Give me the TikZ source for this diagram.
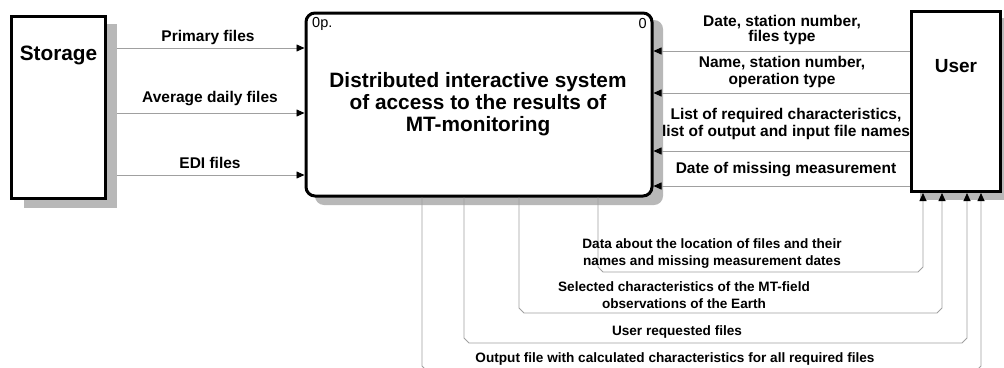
\documentclass[tikz,border=0pt]{standalone}
\usepackage{fontspec}
\setmainfont{Liberation Sans}
\usetikzlibrary{arrows.meta,calc}
\definecolor{shadowc}{HTML}{B8B8B8}
\definecolor{linec}{HTML}{A0A0A0}
\begin{document}
\begin{tikzpicture}[x=1pt,y=-1pt,
  box/.style={draw=black,line width=3pt,fill=white,inner sep=0pt},
  title/.style={font=\fontsize{20.8}{22}\selectfont\bfseries,align=center,inner sep=0pt},
  lbl/.style={font=\fontsize{15.5}{17}\selectfont\bfseries,align=center,inner sep=0pt},
  blbl/.style={font=\fontsize{13.6}{17}\selectfont\bfseries,align=center,inner sep=0pt},
  small/.style={font=\fontsize{14.5}{16}\selectfont,inner sep=0pt},
  conn/.style={draw=linec,line width=0.8pt,-{Triangle[length=8pt,width=7pt,color=black]}}]
\useasboundingbox (0,0) rectangle (1004,367);
\clip (0,0) rectangle (1004,367);
% shadows
\fill[shadowc] (24,24) rectangle (117,208);
\fill[shadowc,rounded corners=9pt] (315,20) rectangle (663,205);
\fill[shadowc] (920,18) rectangle (1012,200);
% boxes
\node[box,minimum width=94pt,minimum height=182pt] (storage) at (58.5,107.5) {};
\node[box,rounded corners=9pt,minimum width=346pt,minimum height=183pt] (main) at (479,104.5) {};
\node[box,minimum width=89pt,minimum height=180pt] (user) at (956,101.5) {};
\node[title] (storaget) at (58.5,55) {Storage};
\node[title,font=\fontsize{19}{21}\selectfont\bfseries] (usert) at (956,66) {User};
\node[title] (maint) at (478,104) {Distributed interactive system\\of access to the results of\\MT-monitoring};
\node[small,anchor=west] (opn) at (312,24) {0p.};
\node[small,anchor=east] (zero) at (647,24) {0};
% coordinates
\coordinate (s1) at (0,48);
\coordinate (s2) at (0,113);
\coordinate (s3) at (0,175);
\coordinate (r1) at (0,51);
\coordinate (r2) at (0,93);
\coordinate (r3) at (0,151);
\coordinate (r4) at (0,186);
% storage -> main
\draw[conn] ($(storage.east |- s1)+(10,0)$) -- (main.west |- s1);
\draw[conn] ($(storage.east |- s2)+(10,0)$) -- (main.west |- s2);
\draw[conn] ($(storage.east |- s3)+(10,0)$) -- (main.west |- s3);
% user -> main
\draw[conn] (user.west |- r1) -- (main.east |- r1);
\draw[conn] (user.west |- r2) -- (main.east |- r2);
\draw[conn] (user.west |- r3) -- (main.east |- r3);
\draw[conn] (user.west |- r4) -- (main.east |- r4);
% main -> user (bottom)
\coordinate (a1) at (598,272); \coordinate (b1) at (923,272);
\coordinate (a2) at (519,313); \coordinate (b2) at (942,313);
\coordinate (a3) at (464,343); \coordinate (b3) at (967,343);
\coordinate (a4) at (422,371); \coordinate (b4) at (981,371);
\foreach \i in {1,2,3,4}{
  \draw[conn] (main.south -| a\i) -- ($(a\i)+(0,-5)$) -- ($(a\i)+(5,0)$) -- ($(b\i)+(-5,0)$) -- ($(b\i)+(0,-5)$) -- (user.south -| b\i);
}
% labels
\node[lbl] (l1) at (208,37) {Primary files};
\node[lbl] (l2) at (210,99) {Average daily files};
\node[lbl] (l3) at (210,163) {EDI files};
\node[lbl] (l4) at (782,30) {Date, station number,\\[-2pt]files type};
\node[lbl] (l5) at (782,72) {Name, station number,\\operation type};
\node[lbl] (l6) at (786,124) {List of required characteristics,\\list of output and input file names};
\node[lbl] (l7) at (786,170) {Date of missing measurement};
\node[blbl] (l8) at (712,254) {Data about the location of files and their\\names and missing measurement dates};
\node[blbl] (l9) at (684,295) {Selected characteristics of the MT-field\\observations of the Earth};
\node[blbl] (l10) at (677,331.5) {User requested files};
\node[blbl] (l11) at (675,358.5) {Output file with calculated characteristics for all required files};
\end{tikzpicture}
\end{document}
